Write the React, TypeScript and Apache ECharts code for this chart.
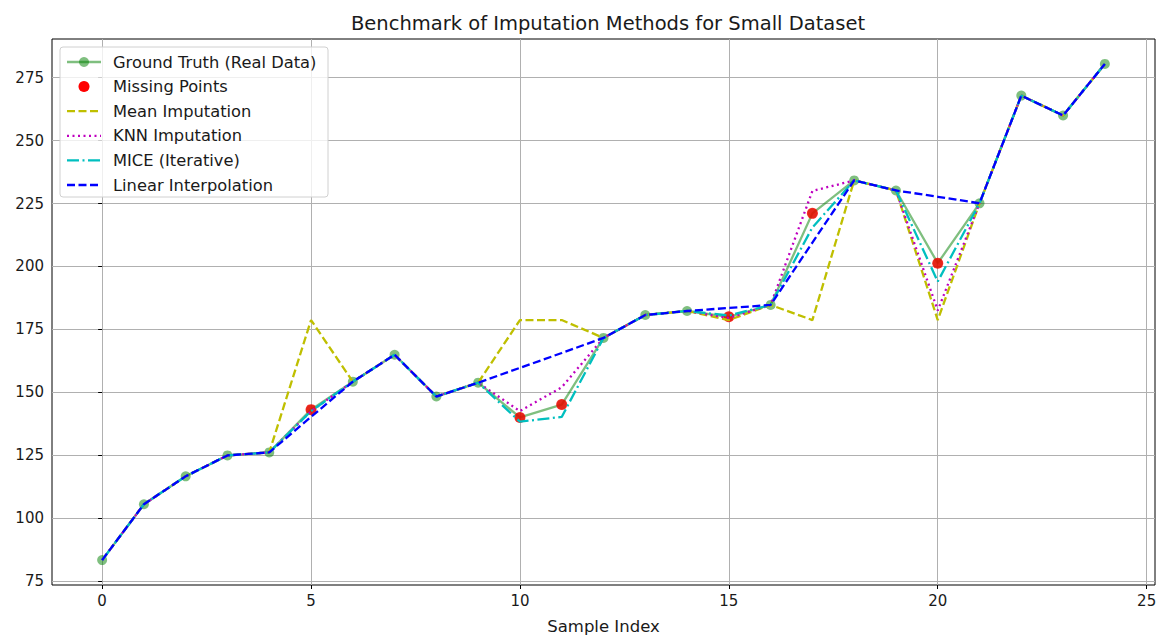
import React, { useEffect, useRef } from "react";
import * as echarts from "echarts";

const sampleIndex = [0,1,2,3,4,5,6,7,8,9,10,11,12,13,14,15,16,17,18,19,20,21,22,23,24];
const groundTruth = [83.3,105.5,116.6,124.9,126.1,143.1,154.2,164.9,148.3,153.8,140.0,145.1,171.6,180.7,182.3,180.0,184.7,221.1,234.2,230.2,201.3,225.1,267.9,260.0,280.5];
const missingIndex = [5,10,11,15,17,20];
const meanImputation = [83.3,105.5,116.6,124.9,126.1,178.7,154.2,164.9,148.3,153.8,178.7,178.7,171.6,180.7,182.3,178.7,184.7,178.7,234.2,230.2,178.7,225.1,267.9,260.0,280.5];
const knnImputation = [83.3,105.5,116.6,124.9,126.1,142.5,154.2,164.9,148.3,153.8,142.5,152.0,171.6,180.7,182.3,179.5,184.7,230.0,234.2,230.2,182.5,225.1,267.9,260.0,280.5];
const miceImputation = [83.3,105.5,116.6,124.9,126.1,142.5,154.2,164.9,148.3,153.8,138.3,140.2,171.6,180.7,182.3,180.5,184.7,215.5,234.2,230.2,194.0,225.1,267.9,260.0,280.5];
const linearInterp = [83.3,105.5,116.6,124.9,126.1,140.2,154.2,164.9,148.3,153.8,159.7,165.6,171.6,180.7,182.3,183.5,184.7,209.5,234.2,230.2,227.7,225.1,267.9,260.0,280.5];
const xTicks = [0,5,10,15,20,25];
const yTicks = [75,100,125,150,175,200,225,250,275];

const legendLabels = [
  "Ground Truth (Real Data)",
  "Missing Points",
  "Mean Imputation",
  "KNN Imputation",
  "MICE (Iterative)",
  "Linear Interpolation",
];

const FONT = "DejaVu Sans";
const TXT = "#1a1a1a";
const GREEN = "rgba(0,128,0,0.5)";
const RED = "#ff0000";
const YEL = "#bfbf00";
const MAG = "#bf00bf";
const CYA = "#00bfbf";
const BLU = "#0000ff";
const LW = 2.3;

const pairs = (ys: number[]) => sampleIndex.map((x, i) => [x, ys[i]]);

export default function App() {
  const ref = useRef<HTMLDivElement>(null);
  useEffect(() => {
    document.body.style.margin = "0";
    const chart = echarts.init(ref.current!, null, { renderer: "svg" });

    const legX = 60, legY = 47, rowH = 24.6;
    const handles: any[] = [];
    const styles = [
      { color: GREEN, dash: null as any, marker: true },
      { color: RED, dash: null, marker: false, dot: true },
      { color: YEL, dash: [8, 3.5] },
      { color: MAG, dash: [2, 3.5] },
      { color: CYA, dash: [12, 3.5, 2, 3.5] },
      { color: BLU, dash: [8, 3.5] },
    ];
    legendLabels.forEach((lab, i) => {
      const cy = legY + 15 + i * rowH;
      const s: any = styles[i];
      if (s.dot) {
        handles.push({ type: "circle", shape: { cx: 84, cy, r: 5.5 }, style: { fill: RED }, z: 101 });
      } else {
        handles.push({
          type: "line",
          shape: { x1: 67, y1: cy, x2: 101, y2: cy },
          style: { stroke: s.color, lineWidth: LW, lineDash: s.dash || undefined },
          z: 101,
        });
        if (s.marker) {
          handles.push({ type: "circle", shape: { cx: 84, cy, r: 5 }, style: { fill: GREEN }, z: 101 });
        }
      }
      handles.push({
        type: "text",
        x: 113,
        y: cy,
        style: { text: lab, font: `16.3px '${FONT}'`, fill: TXT, textVerticalAlign: "middle" },
        z: 101,
      });
    });

    const lineSeries = (name: string, ys: number[], color: string, dash: number[] | null, z: number) => ({
      name,
      type: "line",
      data: pairs(ys),
      symbol: "none",
      lineStyle: { color, width: LW, type: dash || "solid" },
      z,
      silent: true,
    });

    chart.setOption({
      animation: false,
      backgroundColor: "#fff",
      textStyle: { fontFamily: FONT },
      title: {
        text: "Benchmark of Imputation Methods for Small Dataset",
        left: 603,
        top: 8,
        textAlign: "center",
        textStyle: { fontFamily: FONT, fontSize: 19.5, fontWeight: "normal", color: TXT },
      },
      grid: {
        left: 52,
        right: 6,
        top: 39,
        bottom: 53,
        show: true,
        borderColor: "#000",
        borderWidth: 1,
        backgroundColor: "transparent",
      },
      xAxis: {
        type: "value",
        min: -1.2,
        max: 25.2,
        name: "Sample Index",
        nameLocation: "middle",
        nameGap: 33,
        nameTextStyle: { fontFamily: FONT, fontSize: 16.5, color: TXT },
        axisLine: { show: false },
        axisTick: { show: true, length: 4, customValues: xTicks, lineStyle: { color: "#000" } },
        axisLabel: { customValues: xTicks, fontFamily: FONT, fontSize: 15, color: TXT, margin: 8 },
        splitLine: { show: true, lineStyle: { color: "#b0b0b0", width: 1 } },
      },
      yAxis: {
        type: "value",
        min: 73.4,
        max: 290.4,
        axisLine: { show: false },
        axisTick: { show: true, length: 4, customValues: yTicks, lineStyle: { color: "#000" } },
        axisLabel: { customValues: yTicks, fontFamily: FONT, fontSize: 15, color: TXT, margin: 8 },
        splitLine: { show: true, lineStyle: { color: "#b0b0b0", width: 1 } },
      },
      series: [
        {
          name: "Ground Truth (Real Data)",
          type: "line",
          data: pairs(groundTruth),
          symbol: "circle",
          symbolSize: 10,
          showSymbol: true,
          itemStyle: { color: GREEN },
          lineStyle: { color: GREEN, width: LW },
          z: 2,
          silent: true,
        },
        {
          name: "Missing Points",
          type: "scatter",
          data: missingIndex.map((i) => [sampleIndex[i], groundTruth[i]]),
          symbol: "circle",
          symbolSize: 11,
          itemStyle: { color: RED },
          z: 3,
          silent: true,
        },
        lineSeries("Mean Imputation", meanImputation, YEL, [8, 3.5], 4),
        lineSeries("KNN Imputation", knnImputation, MAG, [2, 3.5], 5),
        lineSeries("MICE (Iterative)", miceImputation, CYA, [12, 3.5, 2, 3.5], 6),
        lineSeries("Linear Interpolation", linearInterp, BLU, [8, 3.5], 7),
      ],
      graphic: [
        {
          type: "rect",
          shape: { x: legX, y: legY, width: 268, height: 150, r: 3 },
          style: { fill: "rgba(255,255,255,0.8)", stroke: "#d0d0d0", lineWidth: 1 },
          z: 100,
        },
        ...handles,
      ],
    });
    return () => chart.dispose();
  }, []);
  return <div ref={ref} style={{ width: 1161, height: 640 }} />;
}
